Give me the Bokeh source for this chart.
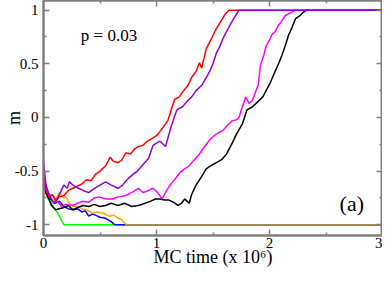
from bokeh.plotting import figure
from bokeh.models import LinearAxis, FixedTicker, Label, Range1d
from bokeh.embed import file_html
from bokeh.resources import INLINE

# ---- data (MC time in units of 10^6, magnetisation m) ----
red_t = [0, 0.02, 0.05, 0.08, 0.11, 0.14, 0.18, 0.22, 0.26, 0.30, 0.34, 0.38, 0.42, 0.46, 0.50,
         0.55, 0.59, 0.62, 0.66, 0.69, 0.73, 0.77, 0.81, 0.84, 0.88, 0.92, 0.97, 1.01, 1.06, 1.10,
         1.13, 1.16, 1.20, 1.24, 1.28, 1.31, 1.35, 1.38, 1.40, 1.44, 1.48, 1.52, 1.56, 1.60, 1.64, 3.0]
red_m = [-0.45, -0.68, -0.74, -0.72, -0.78, -0.74, -0.73, -0.68, -0.66, -0.64, -0.62, -0.58, -0.59, -0.53, -0.50,
         -0.45, -0.37, -0.41, -0.42, -0.40, -0.33, -0.34, -0.29, -0.27, -0.26, -0.22, -0.19, -0.16, -0.09, -0.03,
         0.07, 0.17, 0.19, 0.25, 0.30, 0.37, 0.43, 0.51, 0.46, 0.64, 0.72, 0.81, 0.88, 0.95, 1.0, 1.0]

purple_t = [0, 0.02, 0.05, 0.09, 0.13, 0.18, 0.21, 0.23, 0.26, 0.31, 0.35, 0.40, 0.45, 0.50, 0.55,
            0.60, 0.66, 0.70, 0.74, 0.78, 0.83, 0.88, 0.93, 0.97, 1.00, 1.03, 1.08, 1.12, 1.15, 1.18,
            1.23, 1.27, 1.31, 1.35, 1.40, 1.44, 1.47, 1.50, 1.53, 1.56, 1.59, 1.62, 1.66, 1.70, 1.73, 3.0]
purple_m = [-0.40, -0.62, -0.72, -0.80, -0.74, -0.63, -0.66, -0.60, -0.63, -0.66, -0.68, -0.70, -0.66, -0.63, -0.60,
            -0.63, -0.66, -0.63, -0.58, -0.54, -0.50, -0.44, -0.38, -0.26, -0.24, -0.22, -0.27, -0.12, -0.02, 0.07,
            0.10, 0.15, 0.19, 0.25, 0.30, 0.37, 0.43, 0.50, 0.60, 0.66, 0.74, 0.80, 0.88, 0.95, 1.0, 1.0]

magenta_t = [0, 0.02, 0.05, 0.08, 0.12, 0.16, 0.20, 0.26, 0.30, 0.35, 0.40, 0.45, 0.49, 0.55, 0.61,
             0.66, 0.72, 0.78, 0.84, 0.88, 0.93, 0.97, 1.01, 1.05, 1.09, 1.12, 1.16, 1.21, 1.25, 1.29,
             1.33, 1.38, 1.42, 1.47, 1.51, 1.55, 1.59, 1.63, 1.67, 1.71, 1.73, 1.76, 1.79, 1.82, 1.85,
             1.88, 1.90, 1.92, 1.95, 1.97, 2.00, 2.02, 2.05, 2.08, 2.11, 2.14, 2.18, 2.23, 3.0]
magenta_m = [-0.50, -0.66, -0.72, -0.73, -0.78, -0.83, -0.81, -0.82, -0.80, -0.78, -0.79, -0.75, -0.74, -0.76, -0.76,
             -0.74, -0.73, -0.70, -0.66, -0.70, -0.68, -0.66, -0.70, -0.76, -0.68, -0.63, -0.58, -0.51, -0.48, -0.45,
             -0.40, -0.34, -0.28, -0.21, -0.17, -0.14, -0.12, -0.07, -0.03, -0.02, 0.0, 0.10, 0.19, 0.13, 0.16,
             0.25, 0.30, 0.49, 0.58, 0.67, 0.72, 0.77, 0.80, 0.86, 0.90, 0.95, 0.97, 1.0, 1.0]

black_t = [0, 0.02, 0.04, 0.07, 0.11, 0.14, 0.18, 0.22, 0.26, 0.30, 0.35, 0.40, 0.45, 0.50, 0.55,
           0.60, 0.66, 0.72, 0.78, 0.84, 0.90, 0.95, 0.99, 1.03, 1.07, 1.11, 1.15, 1.19, 1.22, 1.25,
           1.27, 1.29, 1.31, 1.35, 1.40, 1.44, 1.48, 1.53, 1.58, 1.62, 1.67, 1.71, 1.76, 1.80, 1.85,
           1.90, 1.94, 1.97, 2.01, 2.05, 2.08, 2.11, 2.14, 2.17, 2.20, 2.23, 2.27, 2.30, 2.33, 3.0]
black_m = [-0.48, -0.70, -0.74, -0.82, -0.86, -0.85, -0.84, -0.82, -0.86, -0.84, -0.82, -0.83, -0.81, -0.83, -0.82,
           -0.80, -0.82, -0.80, -0.83, -0.82, -0.80, -0.78, -0.76, -0.76, -0.77, -0.77, -0.79, -0.82, -0.80, -0.76,
           -0.78, -0.80, -0.72, -0.63, -0.55, -0.48, -0.45, -0.42, -0.39, -0.34, -0.24, -0.15, -0.06, 0.07, 0.10,
           0.15, 0.19, 0.25, 0.33, 0.43, 0.50, 0.58, 0.67, 0.77, 0.84, 0.92, 0.95, 0.98, 1.0, 1.0]

green_t = [0, 0.02, 0.04, 0.07, 0.10, 0.12, 0.14, 0.16, 0.18, 3.0]
green_m = [-0.50, -0.70, -0.76, -0.80, -0.86, -0.88, -0.92, -0.96, -1.0, -1.0]

blue_t = [0, 0.02, 0.05, 0.08, 0.10, 0.14, 0.18, 0.22, 0.26, 0.30, 0.34, 0.37, 0.40, 0.43, 0.46,
          0.50, 0.55, 0.58, 0.61, 0.63, 3.0]
blue_m = [-0.55, -0.70, -0.75, -0.78, -0.80, -0.78, -0.83, -0.85, -0.86, -0.85, -0.88, -0.87, -0.92, -0.90, -0.91,
          -0.93, -0.94, -0.96, -0.98, -1.0, -1.0]

orange_t = [0, 0.02, 0.05, 0.08, 0.10, 0.14, 0.16, 0.18, 0.20, 0.23, 0.26, 0.30, 0.34, 0.38, 0.43,
            0.47, 0.52, 0.55, 0.58, 0.62, 0.66, 0.69, 0.71, 0.74]
orange_m = [-0.52, -0.68, -0.73, -0.76, -0.79, -0.70, -0.73, -0.75, -0.74, -0.80, -0.83, -0.83, -0.85, -0.86, -0.89,
            -0.88, -0.89, -0.90, -0.92, -0.91, -0.94, -0.95, -0.98, -1.0]

brown_t = [0.74, 3.0]
brown_m = [-1.0, -1.0]

x_ticks = [0, 1, 2, 3]
x_tick_labels = ["0", "1", "2", "3"]
y_ticks = [-1, -0.5, 0, 0.5, 1]
y_tick_labels = ["-1", "-0.5", "0", "0.5", "1"]
x_title = "MC time (x 10\u2076)"
y_title = "m"

FONT = "Liberation Serif"
AX = "#808080"

p = figure(width=382, height=269, output_backend="svg", toolbar_location=None,
           x_range=Range1d(0, 3), y_range=Range1d(-1.1, 1.09),
           min_border_left=0, min_border_right=0, min_border_top=0, min_border_bottom=0)
p.background_fill_color = "white"
p.border_fill_color = "white"
p.outline_line_color = AX
p.outline_line_width = 2
p.grid.visible = False

series = [
    (green_t, green_m, "#00ff00"),
    (blue_t, blue_m, "#0000ff"),
    (orange_t, orange_m, "#ffa500"),
    (black_t, black_m, "#000000"),
    (magenta_t, magenta_m, "#ff00ff"),
    (red_t, red_m, "#ff0000"),
    (purple_t, purple_m, "#9400d3"),
    (brown_t, brown_m, "#b8863b"),
]
for t, m, c in series:
    p.line(t, m, line_color=c, line_width=1.5)

minor_x = [0.5, 1.5, 2.5]
minor_y = [-0.75, -0.25, 0.25, 0.75]

def style(ax, labels):
    ax.axis_line_color = AX
    ax.axis_line_width = 2
    ax.major_tick_line_color = AX
    ax.minor_tick_line_color = AX
    ax.major_tick_line_width = 1.5
    ax.minor_tick_line_width = 1.5
    ax.major_tick_in = 6
    ax.major_tick_out = 0
    ax.minor_tick_in = 3
    ax.minor_tick_out = 0
    ax.major_label_text_font = FONT
    ax.major_label_text_font_size = "15px"
    ax.major_label_text_color = "black"
    ax.axis_label_text_font = FONT
    ax.axis_label_text_font_size = "18px"
    ax.axis_label_text_font_style = "normal"
    ax.axis_label_text_color = "black"
    if not labels:
        ax.major_label_standoff = 0
        ax.axis_label_standoff = 0

xb = p.xaxis[0]
xb.ticker = FixedTicker(ticks=x_ticks, minor_ticks=minor_x)
xb.major_label_overrides = dict(zip(x_ticks, x_tick_labels))
xb.axis_label = x_title
xb.major_label_standoff = 2
xb.axis_label_standoff = -4
style(xb, True)

yl = p.yaxis[0]
yl.ticker = FixedTicker(ticks=y_ticks, minor_ticks=minor_y)
yl.major_label_overrides = dict(zip(y_ticks, y_tick_labels))
yl.axis_label = y_title
yl.major_label_standoff = 5
yl.axis_label_standoff = -12
style(yl, True)

xt = LinearAxis(ticker=FixedTicker(ticks=x_ticks, minor_ticks=minor_x))
xt.major_label_overrides = {t: "" for t in x_ticks}
style(xt, False)
p.add_layout(xt, "above")
yr = LinearAxis(ticker=FixedTicker(ticks=y_ticks, minor_ticks=minor_y))
yr.major_label_overrides = {t: "" for t in y_ticks}
style(yr, False)
p.add_layout(yr, "right")

p.add_layout(Label(x=0.33, y=0.76, text="p = 0.03", text_font=FONT, text_font_size="17px",
                   text_color="black", text_baseline="alphabetic"))
p.add_layout(Label(x=2.62, y=-0.80, text="(a)", text_font=FONT, text_font_size="22px",
                   text_color="black", text_baseline="alphabetic"))

open("out.html", "w").write(file_html(p, INLINE))
